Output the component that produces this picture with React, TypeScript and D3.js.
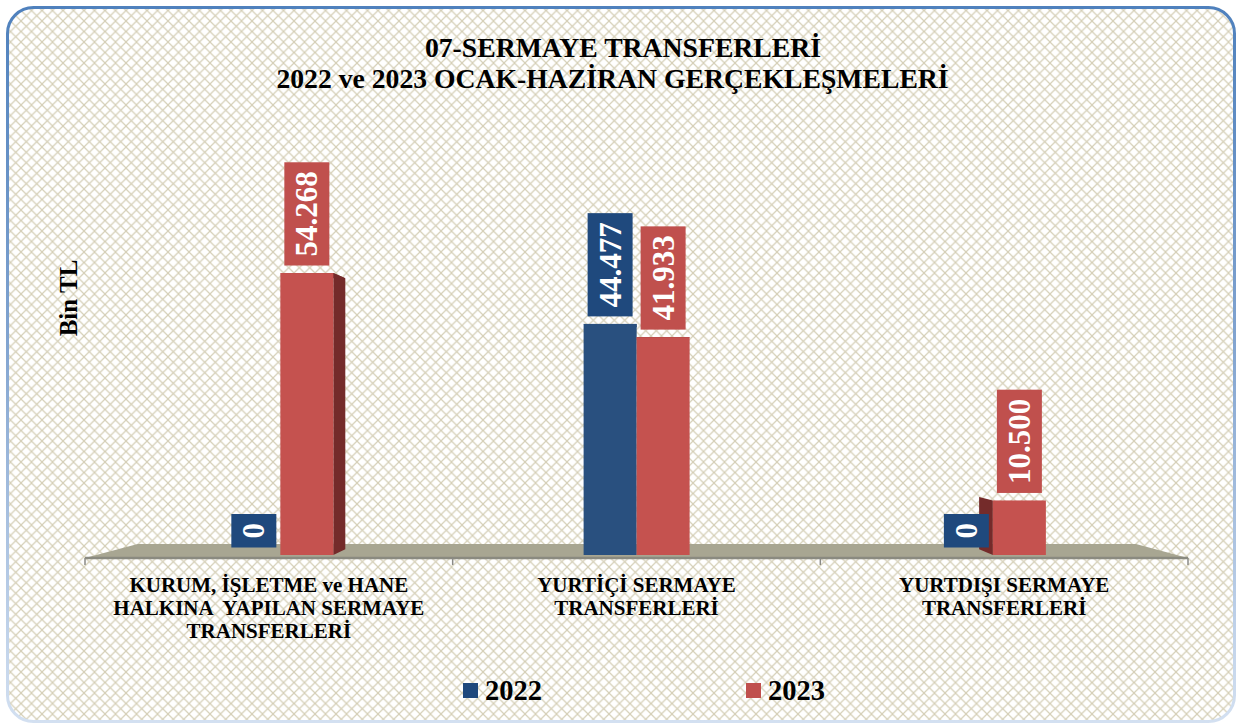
import React from "react";
import * as d3 from "d3";

// ---------- DATA ----------
const titleLines = ["07-SERMAYE TRANSFERLERİ", "2022 ve 2023 OCAK-HAZİRAN GERÇEKLEŞMELERİ"];
const yAxisTitle = "Bin TL";
const categories = ["KURUM", "YURTICI", "YURTDISI"];
const categoryLines = [
  ["KURUM, İŞLETME ve HANE", "HALKINA  YAPILAN SERMAYE", "TRANSFERLERİ"],
  ["YURTİÇİ SERMAYE", "TRANSFERLERİ"],
  ["YURTDIŞI SERMAYE", "TRANSFERLERİ"],
];
const seriesNames = ["2022", "2023"];
const values2022 = [0, 44477, 0];
const values2023 = [54268, 41933, 10500];

// ---------- STYLE ----------
const W = 1239;
const H = 726;
const FONT = "'Liberation Serif', 'Times New Roman', Times, serif";
const seriesColors = [
  { front: "#29507f", side: "#1b3a62", top: "#2a5288", box: "#1f497d" },
  { front: "#c5524f", side: "#742b2a", top: "#5e2120", box: "#c0504d" },
];
const VP: [number, number] = [640, 410];
const floorFrontY = 558;
const floorLeft = 85;
const floorRight = 1188;
const floorDepth = 0.095;
const barPlaneT = 0.031;
const barBaseY = 555;
const barDepth = 0.039;
const barW = 53;

const proj = (x: number, y: number, t: number): [number, number] => [
  x + (VP[0] - x) * t,
  y + (VP[1] - y) * t,
];
const pts = (p: [number, number][]) => p.map((q) => q.join(",")).join(" ");

const fmt = d3
  .formatLocale({ decimal: ",", thousands: ".", grouping: [3], currency: ["", ""] })
  .format(",d");

const charW = (s: string) =>
  s.split("").reduce((a, c) => a + (c === "." || c === "," ? 0.25 : 0.5), 0);

export default function App() {
  const bandL = floorLeft + (VP[0] - floorLeft) * barPlaneT;
  const bandR = floorRight + (VP[0] - floorRight) * barPlaneT;
  const x = d3.scaleBand<string>().domain(categories).range([bandL, bandR]).paddingInner(0).paddingOuter(0);
  const xs = d3.scaleBand<string>().domain(seriesNames).range([-barW, barW]).padding(0);
  const y = d3.scaleLinear().domain([0, 60000]).range([barBaseY, barBaseY - 60000 * 0.005196]);

  const allValues = [values2022, values2023];

  const floorBackL = proj(floorLeft, floorFrontY, floorDepth);
  const floorBackR = proj(floorRight, floorFrontY, floorDepth);
  const floorPoly: [number, number][] = [
    [floorLeft, floorFrontY],
    floorBackL,
    floorBackR,
    [floorRight, floorFrontY],
  ];
  const ticks = d3.range(categories.length + 1).map(
    (i) => floorLeft + (i * (floorRight - floorLeft)) / categories.length
  );

  const bars: React.ReactNode[] = [];
  const labels: React.ReactNode[] = [];
  categories.forEach((c, ci) => {
    const cx = (x(c) as number) + x.bandwidth() / 2;
    seriesNames.forEach((s, si) => {
      const v = allValues[si][ci];
      const col = seriesColors[si];
      const x0 = cx + (xs(s) as number);
      const x1 = x0 + xs.bandwidth();
      const yt = y(v);
      const yb = y(0);
      const key = `${ci}-${si}`;
      if (VP[0] > x1) {
        bars.push(
          <polygon key={key + "r"} fill={col.side}
            points={pts([[x1, yt], proj(x1, yt, barDepth), proj(x1, yb, barDepth), [x1, yb]])} />
        );
      }
      if (VP[0] < x0) {
        bars.push(
          <polygon key={key + "l"} fill={col.side}
            points={pts([[x0, yt], proj(x0, yt, barDepth), proj(x0, yb, barDepth), [x0, yb]])} />
        );
      }
      if (VP[1] > yt) {
        bars.push(
          <polygon key={key + "t"} fill={v === 0 ? col.top : col.side}
            points={pts([[x0, yt], [x1, yt], proj(x1, yt, barDepth), proj(x0, yt, barDepth)])} />
        );
      }
      if (yb - yt > 0) {
        bars.push(<rect key={key + "f"} x={x0} y={yt} width={x1 - x0} height={yb - yt} fill={col.front} />);
      }
      // label
      const txt = fmt(v);
      const fs = 31;
      const len = charW(txt) * fs;
      const bh = len + 18;
      const bw = 45;
      const bcx = (x0 + x1) / 2;
      const bBottom = yt - 7.5;
      labels.push(
        <g key={key + "lab"}>
          <rect x={bcx - bw / 2} y={bBottom - bh} width={bw} height={bh} fill={col.box} />
          <text
            transform={`translate(${bcx},${bBottom - bh / 2}) rotate(-90)`}
            textAnchor="middle"
            dy={fs * 0.34}
            fill="#ffffff"
            fontFamily={FONT}
            fontWeight="bold"
            fontSize={fs}
          >
            {txt}
          </text>
        </g>
      );
    });
  });

  return (
    <svg
      width={W}
      height={H}
      style={{ position: "absolute", left: 0, top: 0, display: "block" }}
    >
      <defs>
        <pattern id="lattice" width="10.5" height="10.5" patternUnits="userSpaceOnUse">
          <rect width="10.5" height="10.5" fill="#ffffff" />
          <path d="M0,0 L10.5,10.5 M10.5,0 L0,10.5" stroke="#d5cfb7" strokeWidth="1.2" />
        </pattern>
        <linearGradient id="borderGrad" x1="0" y1="0" x2="0" y2="1">
          <stop offset="0" stopColor="#4f81bd" />
          <stop offset="0.45" stopColor="#7fa2cf" />
          <stop offset="1" stopColor="#d3e0f1" />
        </linearGradient>
      </defs>
      <rect x={0} y={0} width={W} height={H} fill="#ffffff" />
      <rect x={7.5} y={7.5} width={1227} height={714} rx={26} ry={26}
        fill="url(#lattice)" stroke="url(#borderGrad)" strokeWidth={3} />

      {/* title */}
      <text x={623} y={57} textAnchor="middle" fontFamily={FONT} fontWeight="bold" fontSize={27.7} fill="#000">
        {titleLines[0]}
      </text>
      <text x={612.5} y={88} textAnchor="middle" fontFamily={FONT} fontWeight="bold" fontSize={27.7} fill="#000">
        {titleLines[1]}
      </text>

      {/* y axis title */}
      <text transform="translate(77,298) rotate(-90)" textAnchor="middle" fontFamily={FONT}
        fontWeight="bold" fontSize={25} fill="#000">
        {yAxisTitle}
      </text>

      {/* floor */}
      <polygon points={pts(floorPoly)} fill="#a8a692" />
      <line x1={floorLeft} x2={floorRight} y1={floorFrontY} y2={floorFrontY} stroke="#8a8a80" strokeWidth={2.5} />
      {ticks.map((t, i) => (
        <line key={i} x1={t} x2={t} y1={floorFrontY} y2={floorFrontY + 7} stroke="#8a8a86" strokeWidth={1.5} />
      ))}

      {bars}
      {labels}

      {/* category labels */}
      {categories.map((c, ci) => {
        const cx = floorLeft + ((ci + 0.5) * (floorRight - floorLeft)) / categories.length;
        return (
          <text key={c} textAnchor="middle" fontFamily={FONT} fontWeight="bold" fontSize={21}
            fill="#000" style={{ whiteSpace: "pre" }}>
            {categoryLines[ci].map((ln, li) => (
              <tspan key={li} x={cx} y={592 + li * 23}>{ln}</tspan>
            ))}
          </text>
        );
      })}

      {/* legend */}
      {seriesNames.map((s, si) => {
        const lx = si === 0 ? 463 : 746;
        return (
          <g key={s}>
            <rect x={lx} y={683} width={15} height={15} fill={seriesColors[si].box} />
            <text x={lx + 22} y={700} fontFamily={FONT} fontWeight="bold" fontSize={28.5} fill="#000">
              {s}
            </text>
          </g>
        );
      })}
    </svg>
  );
}
